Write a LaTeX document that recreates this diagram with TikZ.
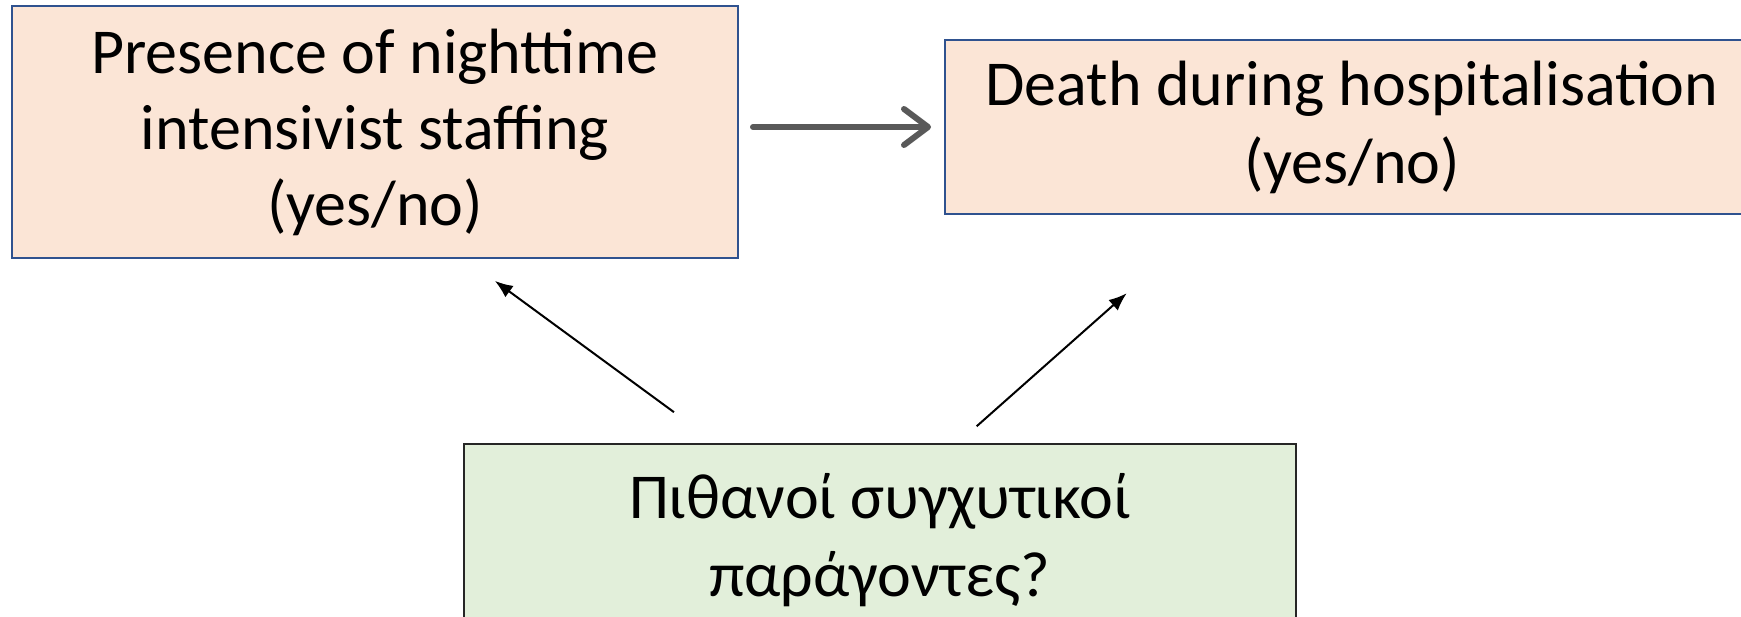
\documentclass[tikz,border=0pt]{standalone}
\usepackage{fontspec}
\setmainfont{Carlito}
\usetikzlibrary{arrows.meta}
\definecolor{peach}{HTML}{FBE5D6}
\definecolor{boxblue}{HTML}{2F528F}
\definecolor{paleGreen}{HTML}{E2EFDA}
\definecolor{arrowgray}{HTML}{595959}
\tikzset{
  x=1pt, y=1pt,
  varbox/.style={draw=boxblue, line width=2pt, fill=peach, align=center,
    inner sep=0pt, font=\fontsize{64}{76}\selectfont},
  confbox/.style={draw=black!85, line width=2.2pt, fill=paleGreen, align=center,
    inner sep=0pt, font=\fontsize{64}{78}\selectfont},
  mainarrow/.style={draw=arrowgray, line width=6pt, line cap=round,
    -{Straight Barb[length=24pt,width=36pt,round]}},
  confarrow/.style={draw=black, line width=2pt,
    -{Latex[length=18pt,width=14pt]}},
}
\begin{document}
\begin{tikzpicture}
\useasboundingbox (0,0) rectangle (1741,-617);

\node[varbox, minimum width=726pt, minimum height=252pt] (expo) at (375,-132)
  {Presence of nighttime\\intensivist staffing\\(yes/no)};
\node[varbox, minimum width=814pt, minimum height=174pt,
  font=\fontsize{64}{78}\selectfont] (outc) at (1352,-127)
  {Death during hospitalisation\\(yes/no)};
\node[confbox, minimum width=832pt, minimum height=192pt] (conf) at (880,-540)
  {Πιθανοί συγχυτικοί\\παράγοντες?};

\draw[mainarrow, shorten <=14pt, shorten >=13pt]
  (expo.east |- outc.west) -- (outc.west);

\draw[confarrow, shorten <=52pt, shorten >=37pt]
  ([xshift=253pt]conf.north west) -- ([xshift=454pt]expo.south west);
\draw[confarrow, shorten <=25pt, shorten >=118pt]
  ([xshift=495pt]conf.north west) -- ([xshift=271pt]outc.south west);
\end{tikzpicture}
\end{document}
